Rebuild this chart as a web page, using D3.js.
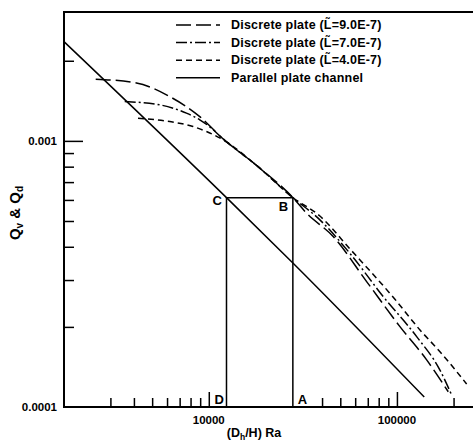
<!DOCTYPE html>
<html>
<head>
<meta charset="utf-8">
<script src="https://cdn.jsdelivr.net/npm/d3@7"></script>
<style>
  body { margin: 0; background: #fff; }
  svg { display: block; }
  text { font-family: "Liberation Sans", Arial, sans-serif; fill: #000; font-weight: bold; }
</style>
</head>
<body>
<svg id="chart" width="473" height="442"></svg>
<script>
// Values: Ra = (Dh/H) Ra, q = Qv & Qd
const parallelRa = [1700, 12420, 28080, 139700]
const parallelQ = [0.00236, 0.000612, 0.000347, 0.000109]

const disc9Ra = [2506, 4125, 6200, 8955, 11920, 17930, 27980, 33090, 45840, 69010, 103750, 143900, 187500]
const disc9Q = [0.001706, 0.00165, 0.001467, 0.001234, 0.001017, 0.000809, 0.000612, 0.000535, 0.000437, 0.000296, 0.0002005, 0.0001503, 0.0001141]

const disc7Ra = [3574, 5489, 7608, 8955, 10123, 11920, 17930, 27980, 38950, 56230, 84560, 127300, 169300, 195400]
const disc7Q = [0.001405, 0.001366, 0.001271, 0.0012, 0.001129, 0.001017, 0.000809, 0.000612, 0.000505, 0.000378, 0.00026, 0.0001838, 0.0001377, 0.0001109]

const disc4Ra = [4206, 6200, 8253, 9722, 11920, 17930, 27980, 38950, 56230, 97590, 132600, 169300, 234800]
const disc4Q = [0.001217, 0.001182, 0.001132, 0.001084, 0.001009, 0.000809, 0.000612, 0.000522, 0.000393, 0.000254, 0.0001948, 0.0001614, 0.000122]

// construction lines C-B, C-D, B-A
const pointC = [12420, 0.000612]
const pointB = [27980, 0.000612]

const xMajorTicks = [10000, 100000]
const xMinorTicks = [3000, 4000, 5000, 6000, 7000, 8000, 9000, 40000, 50000, 60000, 70000, 80000, 90000, 200000]
const yMajorTicks = [0.0001, 0.001]
const yMinorTicks = [0.0002, 0.0003, 0.0004, 0.0005, 0.0006, 0.0007, 0.0008, 0.0009, 0.002]

const legendLabels = [
  "Discrete plate (L\u0303=9.0E-7)",
  "Discrete plate (L\u0303=7.0E-7)",
  "Discrete plate (L\u0303=4.0E-7)",
  "Parallel plate channel"
]

const svg = d3.select("#chart")

const x = d3.scaleLog().domain([1700, 260000]).range([64, 475])
const y = d3.scaleLog().domain([0.0001, 0.00305]).range([407, 12])

const zip = (a, b) => a.map((v, i) => [v, b[i]])

const line = d3
  .line()
  .x((d) => x(d[0]))
  .y((d) => y(d[1]))
  .curve(d3.curveMonotoneX)

const series = [
  { pts: zip(disc9Ra, disc9Q), dash: "15,5" },
  { pts: zip(disc7Ra, disc7Q), dash: "11,3,2,3" },
  { pts: zip(disc4Ra, disc4Q), dash: "6,4" },
  { pts: zip(parallelRa, parallelQ), dash: null }
]

// Frame (right side runs off the picture)
svg
  .append("path")
  .attr("d", `M${x.range()[1]},${y.range()[1]}H${x.range()[0]}V${y.range()[0]}H${x.range()[1]}`)
  .attr("fill", "none")
  .attr("stroke", "#000")
  .attr("stroke-width", 2)

// Ticks, drawn inward
const bottomAxis = (ticks, len) =>
  d3.axisTop(x).tickValues(ticks).tickSize(len).tickFormat("")
const leftAxis = (ticks, len) =>
  d3.axisRight(y).tickValues(ticks).tickSize(len).tickFormat("")

const gx = svg.append("g").attr("transform", `translate(0,${y.range()[0]})`)
gx.append("g").call(bottomAxis(xMinorTicks, 9))
gx.append("g").call(bottomAxis(xMajorTicks, 15))
gx.selectAll(".domain").remove()
gx.selectAll("line").attr("stroke-width", 1.5)

const gy = svg.append("g").attr("transform", `translate(${x.range()[0]},0)`)
gy.append("g").call(leftAxis(yMinorTicks, 10))
gy.append("g").call(leftAxis(yMajorTicks.slice(1), 19))
gy.selectAll(".domain").remove()
gy.selectAll("line").attr("stroke-width", 1.5)

// Tick labels
svg
  .selectAll(".xlab")
  .data(xMajorTicks)
  .join("text")
  .attr("x", (d) => x(d))
  .attr("y", 424)
  .attr("text-anchor", "middle")
  .attr("font-size", 11.5)
  .text((d) => d)

svg
  .selectAll(".ylab")
  .data(yMajorTicks)
  .join("text")
  .attr("x", 57)
  .attr("y", (d) => y(d) + 4)
  .attr("text-anchor", "end")
  .attr("font-size", 11.5)
  .text((d) => (d === 0.001 ? "0.001" : "0.0001"))

// Axis titles
const xt = svg
  .append("text")
  .attr("x", 254)
  .attr("y", 437)
  .attr("text-anchor", "middle")
  .attr("font-size", 12.5)
xt.append("tspan").text("(D")
xt.append("tspan").attr("font-size", 8.5).attr("dy", 3).text("h")
xt.append("tspan").attr("dy", -3).text("/H) Ra")

const yt = svg
  .append("text")
  .attr("transform", "translate(20,213) rotate(-90)")
  .attr("text-anchor", "middle")
  .attr("font-size", 15)
yt.append("tspan").text("Q")
yt.append("tspan").attr("font-size", 10).attr("dy", 3).text("v")
yt.append("tspan").attr("dy", -3).text(" & Q")
yt.append("tspan").attr("font-size", 10).attr("dy", 3).text("d")

// Construction lines
const [cx, cy] = [x(pointC[0]), y(pointC[1])]
const [bx, by] = [x(pointB[0]), y(pointB[1])]
svg
  .append("path")
  .attr("d", `M${cx},${y.range()[0]}V${cy}H${bx}V${y.range()[0]}`)
  .attr("fill", "none")
  .attr("stroke", "#000")
  .attr("stroke-width", 1.5)

const letters = [
  { t: "C", x: cx - 14, y: cy + 7 },
  { t: "B", x: bx - 14, y: by + 13 },
  { t: "D", x: cx - 12, y: y.range()[0] - 3 },
  { t: "A", x: bx + 5, y: y.range()[0] - 3 }
]
svg
  .selectAll(".letter")
  .data(letters)
  .join("text")
  .attr("x", (d) => d.x)
  .attr("y", (d) => d.y)
  .attr("font-size", 13)
  .text((d) => d.t)

// Curves
svg
  .selectAll(".curve")
  .data(series)
  .join("path")
  .attr("d", (d) => line(d.pts))
  .attr("fill", "none")
  .attr("stroke", "#000")
  .attr("stroke-width", 1.5)
  .attr("stroke-dasharray", (d) => d.dash)

// Legend
const legend = svg
  .selectAll(".legend")
  .data(series)
  .join("g")
  .attr("transform", (d, i) => `translate(176,${25 + i * 17.6})`)
legend
  .append("line")
  .attr("x1", 0)
  .attr("x2", 44)
  .attr("stroke", "#000")
  .attr("stroke-width", 1.5)
  .attr("stroke-dasharray", (d) => d.dash)
legend
  .append("text")
  .attr("x", 55)
  .attr("y", 4)
  .attr("font-size", 12.5)
  .attr("letter-spacing", 0.2)
  .text((d, i) => legendLabels[i])
</script>
</body>
</html>
